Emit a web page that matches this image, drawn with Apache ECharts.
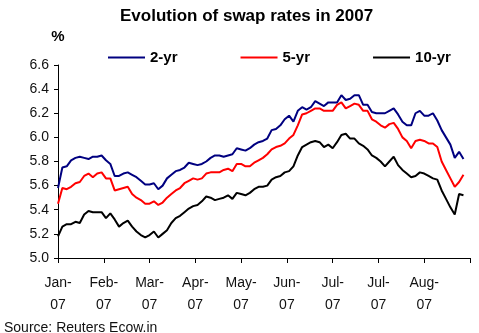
<!DOCTYPE html>
<html>
<head>
<meta charset="utf-8">
<script src="https://cdn.jsdelivr.net/npm/echarts@6/dist/echarts.min.js"></script>
<style>
html,body{margin:0;padding:0;background:#fff;}
#chart{width:479px;height:333px;}
</style>
</head>
<body>
<div id="chart"></div>
<script>
// Trading-day step between samples (sampled every 2 trading days)
var dayStep = 2;
var tickLabels = ['Jan-\n07','Feb-\n07','Mar-\n07','Apr-\n07','May-\n07','Jun-\n07','Jul-\n07','Jul-\n07','Aug-\n07'];
var yTicks = [5.0, 5.2, 5.4, 5.6, 5.8, 6.0, 6.2, 6.4, 6.6];
var seriesNames = ['2-yr', '5-yr', '10-yr'];

var swap2yr = [5.58,5.75,5.76,5.81,5.83,5.84,5.83,5.82,5.84,5.84,
5.85,5.81,5.78,5.68,5.68,5.70,5.71,5.69,5.67,5.64,
5.61,5.61,5.62,5.57,5.60,5.66,5.69,5.72,5.73,5.75,
5.79,5.78,5.77,5.78,5.80,5.83,5.85,5.85,5.84,5.85,
5.86,5.91,5.90,5.89,5.91,5.94,5.96,5.97,5.99,6.06,
6.07,6.10,6.15,6.18,6.13,6.22,6.25,6.23,6.25,6.30,
6.28,6.26,6.29,6.29,6.29,6.35,6.31,6.32,6.35,6.35,
6.27,6.27,6.21,6.20,6.20,6.20,6.22,6.24,6.19,6.13,
6.10,6.10,6.20,6.22,6.18,6.18,6.20,6.14,6.06,6.00,
5.94,5.83,5.88,5.82];

var swap5yr = [5.45,5.58,5.57,5.59,5.62,5.63,5.68,5.70,5.67,5.70,
5.71,5.66,5.66,5.56,5.57,5.58,5.59,5.53,5.50,5.48,
5.45,5.45,5.47,5.44,5.46,5.50,5.53,5.56,5.58,5.62,
5.64,5.66,5.65,5.66,5.70,5.71,5.71,5.71,5.73,5.74,
5.72,5.78,5.78,5.76,5.76,5.79,5.81,5.83,5.86,5.90,
5.92,5.93,5.95,5.99,6.02,6.10,6.19,6.20,6.22,6.24,
6.24,6.22,6.22,6.22,6.27,6.29,6.24,6.26,6.28,6.27,
6.22,6.22,6.15,6.13,6.10,6.08,6.11,6.12,6.07,6.00,
5.97,5.91,5.97,5.98,5.97,5.95,5.95,5.92,5.80,5.73,
5.66,5.59,5.63,5.69];

var swap10yr = [5.18,5.26,5.28,5.28,5.30,5.29,5.36,5.39,5.38,5.38,
5.38,5.33,5.37,5.32,5.26,5.29,5.31,5.26,5.22,5.19,
5.17,5.19,5.22,5.17,5.20,5.23,5.29,5.33,5.35,5.38,
5.41,5.43,5.44,5.47,5.51,5.50,5.48,5.49,5.50,5.52,
5.49,5.54,5.53,5.52,5.54,5.57,5.59,5.59,5.60,5.65,
5.67,5.68,5.71,5.72,5.76,5.85,5.92,5.94,5.96,5.97,
5.96,5.92,5.94,5.91,5.96,6.02,6.03,5.99,5.99,5.95,
5.93,5.90,5.85,5.83,5.80,5.76,5.80,5.84,5.77,5.73,
5.70,5.67,5.68,5.71,5.70,5.68,5.66,5.65,5.56,5.49,
5.42,5.36,5.53,5.52];

var tickEvery = 21; // trading days between axis ticks
var FONT = 'Liberation Sans, Arial, sans-serif';

function toPairs(arr){ return arr.map(function(v,i){ return [i*dayStep, v]; }); }

var chart = echarts.init(document.getElementById('chart'), null, {renderer:'canvas'});
chart.setOption({
  animation: false,
  backgroundColor: '#fff',
  title: {
    text: 'Evolution of swap rates in 2007',
    left: 120, top: 8, padding: 0,
    textStyle: {fontFamily: FONT, fontSize: 17, fontWeight: 'bold', color: '#000'}
  },
  legend: {
    data: seriesNames,
    left: 108, top: 50, padding: 0,
    itemWidth: 37, itemHeight: 2, itemGap: 63,
    icon: 'rect',
    textStyle: {fontFamily: FONT, fontSize: 15, fontWeight: 'bold', color: '#000'}
  },
  grid: {left: 58, top: 65, right: 9, bottom: 75, containLabel: false},
  xAxis: {
    type: 'value',
    min: 0, max: tickEvery * tickLabels.length, interval: tickEvery,
    axisLine: {lineStyle: {color: '#000', width: 1}},
    axisTick: {show: true, length: 5, lineStyle: {color: '#000'}},
    splitLine: {show: false},
    axisLabel: {
      fontFamily: FONT, fontSize: 14, color: '#111', lineHeight: 22, margin: 14,
      formatter: function(v){ var k = Math.round(v / tickEvery); return tickLabels[k] || ''; }
    }
  },
  yAxis: {
    type: 'value',
    min: yTicks[0], max: yTicks[yTicks.length-1], interval: 0.2,
    name: '%', nameLocation: 'end', nameGap: 21,
    nameTextStyle: {fontFamily: FONT, fontSize: 15, fontWeight: 'bold', color: '#000', align: 'center'},
    axisLine: {show: true, lineStyle: {color: '#000', width: 1}},
    axisTick: {show: true, length: 4, lineStyle: {color: '#000'}},
    splitLine: {show: false},
    axisLabel: {
      fontFamily: FONT, fontSize: 14, color: '#111', margin: 9,
      formatter: function(v){ return v.toFixed(1); }
    }
  },
  graphic: [{
    type: 'text', left: 4, top: 321,
    style: {text: 'Source: Reuters Ecow.in', fontFamily: FONT, fontSize: 14, fill: '#111'}
  }],
  series: [
    {name: seriesNames[0], type: 'line', data: toPairs(swap2yr), showSymbol: false, symbol: 'none',
     lineStyle: {color: '#000080', width: 2}, itemStyle: {color: '#000080'}},
    {name: seriesNames[1], type: 'line', data: toPairs(swap5yr), showSymbol: false, symbol: 'none',
     lineStyle: {color: '#ff0000', width: 2}, itemStyle: {color: '#ff0000'}},
    {name: seriesNames[2], type: 'line', data: toPairs(swap10yr), showSymbol: false, symbol: 'none',
     lineStyle: {color: '#000000', width: 2}, itemStyle: {color: '#000000'}}
  ]
});
</script>
</body>
</html>
